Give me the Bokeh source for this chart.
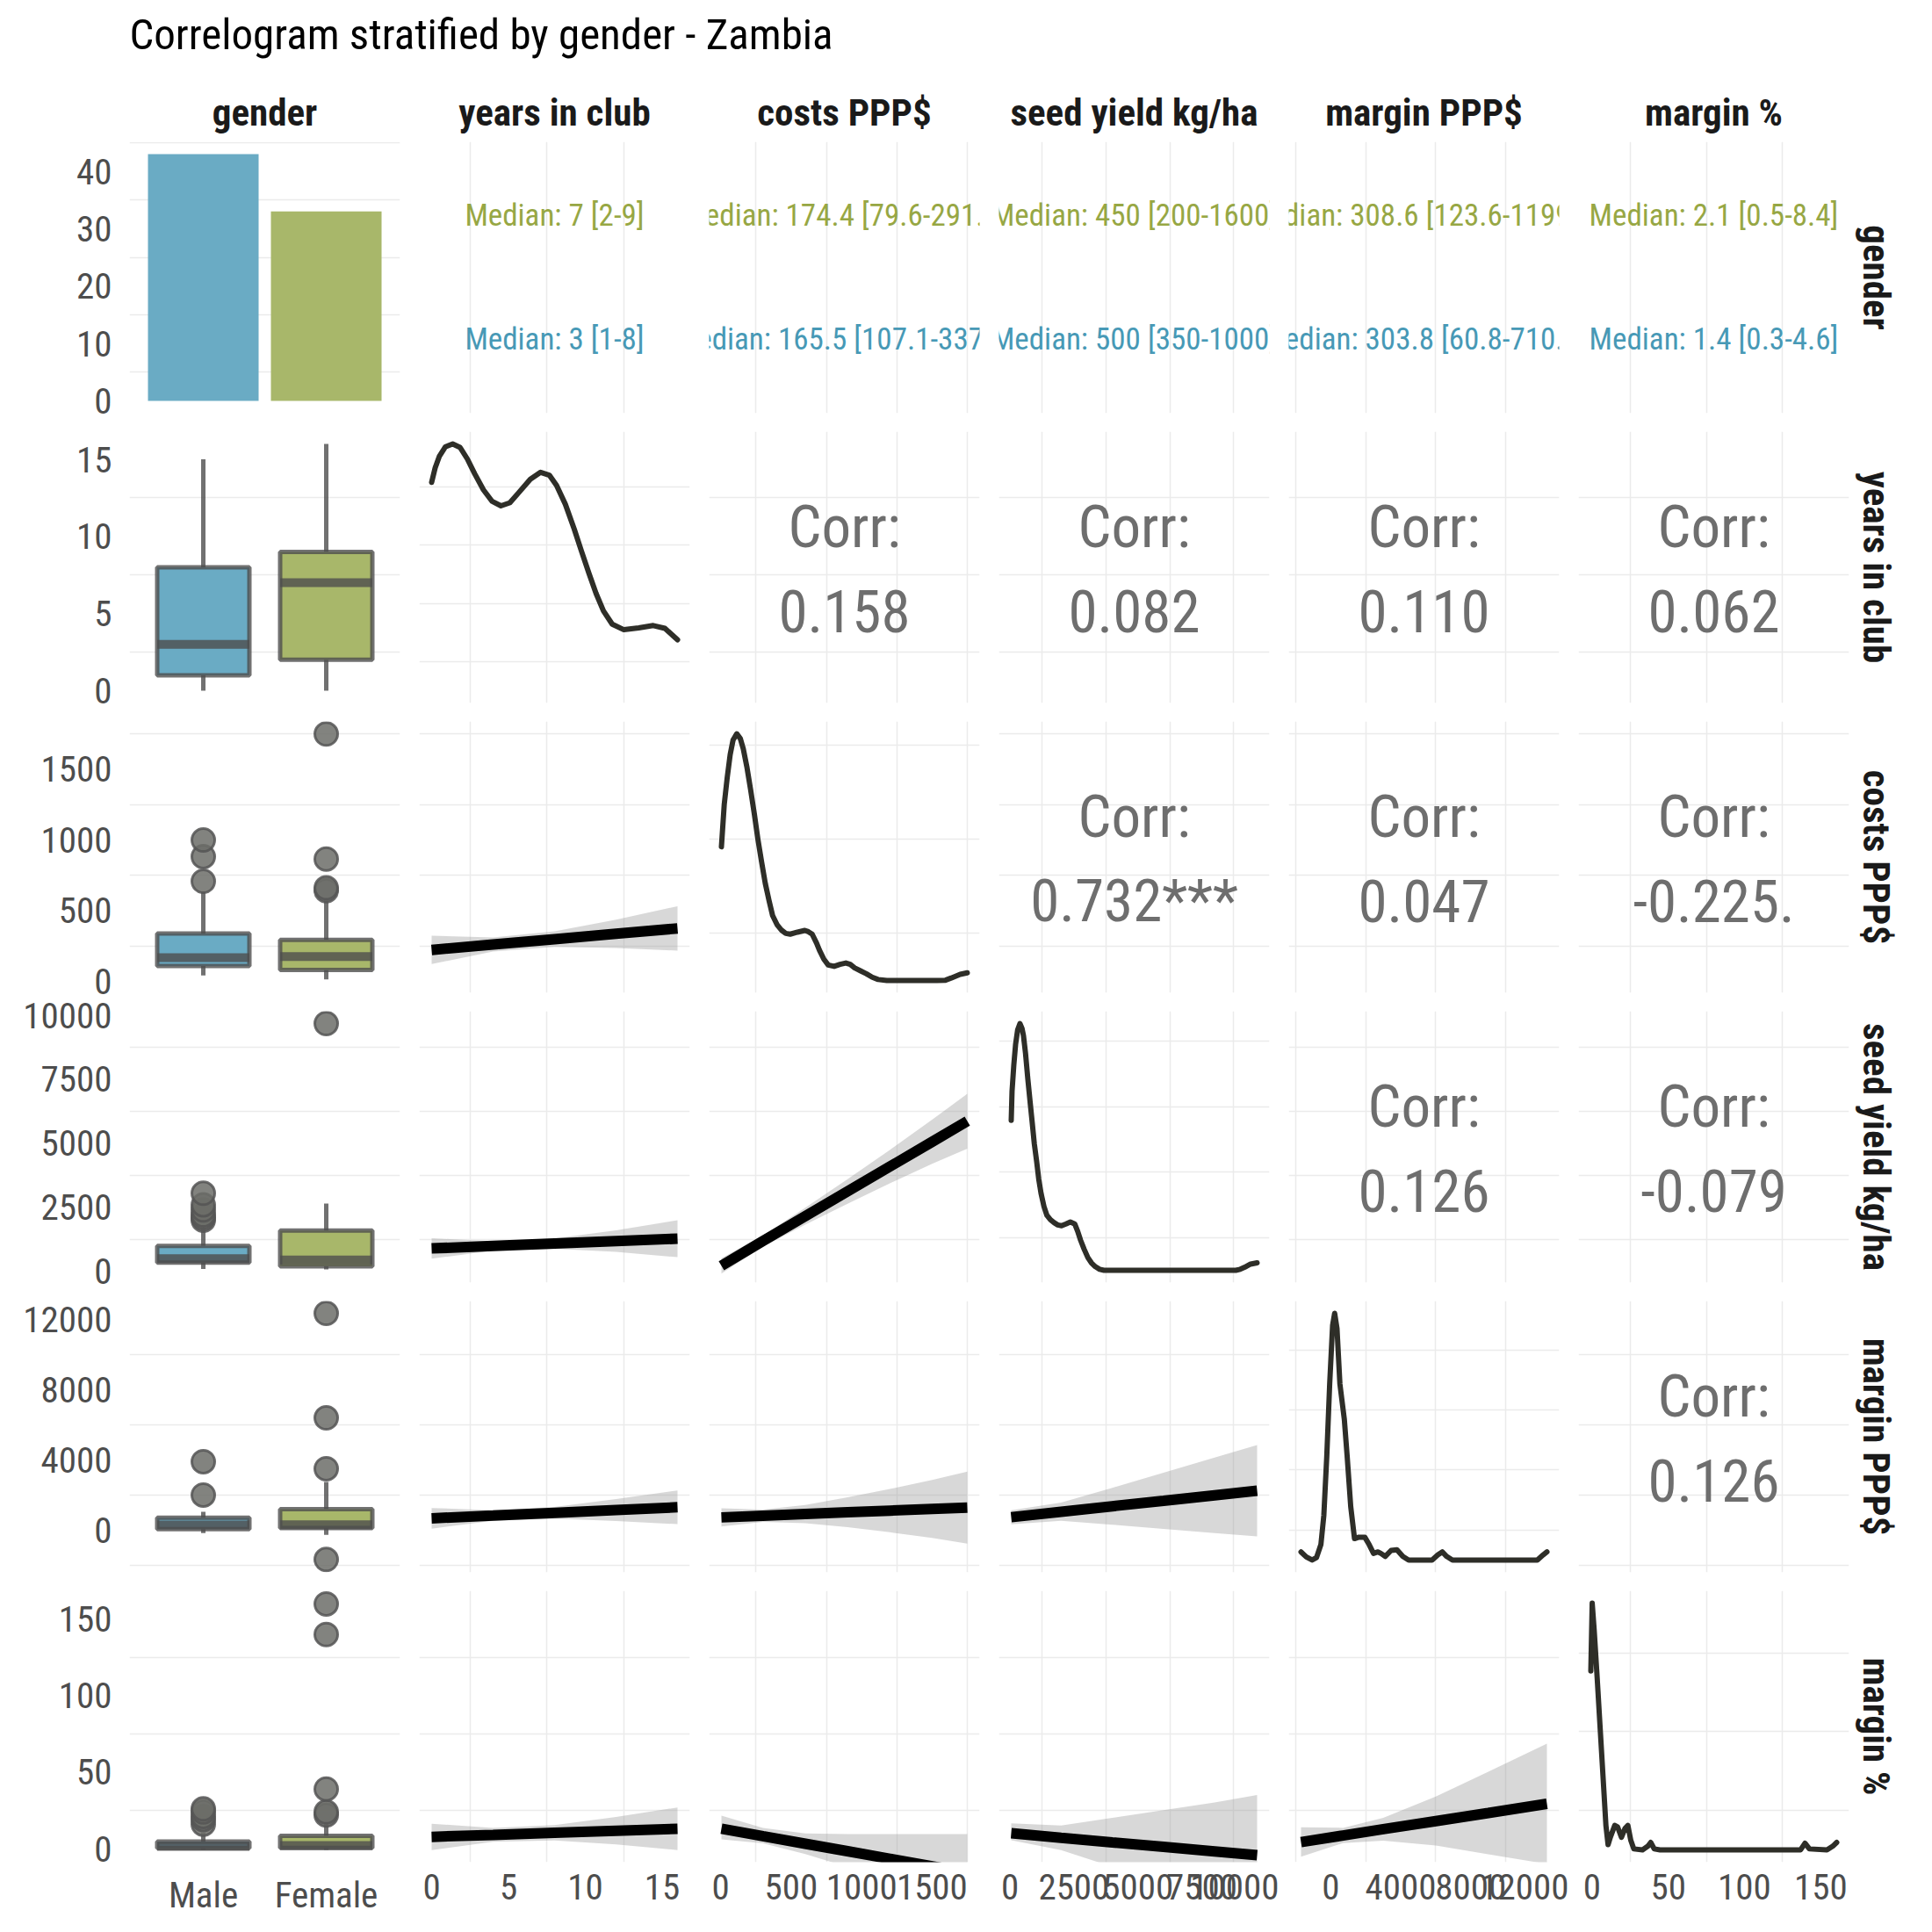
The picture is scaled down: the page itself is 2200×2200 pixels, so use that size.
from bokeh.plotting import figure
from bokeh.models import Range1d, FactorRange, FixedTicker, Title
from bokeh.layouts import column, row
from bokeh.embed import file_html
from bokeh.resources import INLINE
from bokeh.core.properties import value

# ---------------- data ----------------
TITLE = "Correlogram stratified by gender - Zambia"
VAR_LABELS = ["gender", "years in club", "costs PPP$", "seed yield kg/ha", "margin PPP$", "margin %"]
GENDERS = ["Male", "Female"]
GENDER_POS = [1, 2]
COUNTS = [43, 33]

# observed minimum / maximum of the numeric variables (years, costs, seed, margin, margin %)
NUM_MIN = [0, 5, 50, -1700, -0.8]
NUM_MAX = [16, 1750, 9660, 12350, 160.5]

MAJOR_TICKS = [[0, 5, 10, 15], [0, 500, 1000, 1500], [0, 2500, 5000, 7500, 10000],
               [0, 4000, 8000, 12000], [0, 50, 100, 150]]
MINOR_TICKS = [[2.5, 7.5, 12.5], [250, 750, 1250, 1750], [1250, 3750, 6250, 8750],
               [-2000, 2000, 6000, 10000], [25, 75, 125]]
COUNT_TICKS = [0, 10, 20, 30, 40]
COUNT_MINOR = [5, 15, 25, 35, 45]

MEDIAN_FEMALE = ["Median: 7 [2-9]", "Median: 174.4 [79.6-291.5]", "Median: 450 [200-1600]",
                 "Median: 308.6 [123.6-1199.5]", "Median: 2.1 [0.5-8.4]"]
MEDIAN_MALE = ["Median: 3 [1-8]", "Median: 165.5 [107.1-337.5]", "Median: 500 [350-1000]",
               "Median: 303.8 [60.8-710.5]", "Median: 1.4 [0.3-4.6]"]

CORR_YEARS = ["0.158", "0.082", "0.110", "0.062"]
CORR_COSTS = ["0.732***", "0.047", "-0.225."]
CORR_SEED = ["0.126", "-0.079"]
CORR_MARGIN = ["0.126"]

# boxplot statistics per variable (years, costs, seed, margin, margin %)
MALE_WHISKER_LO = [0, 40, 100, -170, -0.8]
MALE_Q1 = [1, 107.1, 350, 60.8, 0.3]
MALE_MED = [3, 165.5, 500, 303.8, 1.4]
MALE_Q3 = [8, 337.5, 1000, 710.5, 4.6]
MALE_WHISKER_HI = [15, 630, 1800, 1050, 10.5]
FEMALE_WHISKER_LO = [0, 12, 80, -270, -0.8]
FEMALE_Q1 = [2, 79.6, 200, 123.6, 0.5]
FEMALE_MED = [7, 174.4, 450, 308.6, 2.1]
FEMALE_Q3 = [9, 291.5, 1600, 1199.5, 8.4]
FEMALE_WHISKER_HI = [16, 580, 2650, 2750, 17]
MALE_OUTLIERS = [[], [706, 881, 998], [2000, 2100, 2200, 2400, 2600, 3050], [2000, 3900],
                 [16, 19, 21, 24, 26]]
FEMALE_OUTLIERS = [[], [640, 660, 864, 1748], [9660], [-1670, 3500, 6400, 12350],
                   [22, 24, 39, 140, 160]]

# kernel densities (diagonal)
DENS_YEARS_X = [0, 0.23, 0.51, 0.90, 1.37, 1.85, 2.32, 2.80, 3.37, 3.94, 4.51, 5.09, 5.66, 6.42,
                7.09, 7.66, 8.13, 8.70, 9.28, 9.75, 10.23, 10.70, 11.18, 11.75, 12.51, 13.47,
                14.42, 15.18, 16.0]
DENS_YEARS_Y = [0.0896, 0.0958, 0.1009, 0.1049, 0.1061, 0.1046, 0.0997, 0.0933, 0.0864, 0.0814,
                0.0795, 0.0808, 0.0851, 0.0909, 0.0939, 0.0927, 0.0883, 0.0802, 0.0695, 0.0600,
                0.0506, 0.0418, 0.0343, 0.0286, 0.0262, 0.0270, 0.0280, 0.0268, 0.0219]
DENS_YEARS_MINOR = [0.0125, 0.0375, 0.0625, 0.0875]

DENS_COSTS_X = [5, 25, 45.7, 67, 87.3, 114, 139.3, 160, 185.1, 212, 239.1, 264, 291.1, 316,
                343.1, 368, 399.3, 430, 461.6, 493, 544.8, 597, 621.8, 649, 680, 701, 732, 763,
                805, 846.4, 888, 919.1, 950, 991.9, 1034, 1075, 1117, 1179, 1241, 1533, 1595,
                1636, 1699, 1750]
DENS_COSTS_Y_E3 = [1.418, 1.867, 2.146, 2.394, 2.548, 2.616, 2.564, 2.457, 2.269, 2.024, 1.760,
                   1.496, 1.248, 1.031, 0.846, 0.689, 0.593, 0.535, 0.499, 0.491, 0.512, 0.530,
                   0.517, 0.491, 0.397, 0.319, 0.225, 0.164, 0.149, 0.170, 0.185, 0.170, 0.133,
                   0.102, 0.071, 0.034, 0.010, 0.0, 0.0, 0.0, 0.003, 0.026, 0.065, 0.081]
DENS_COSTS_MINOR = [0.5, 1.5, 2.5]

DENS_SEED_X = [50, 82, 151, 220, 300, 392, 472, 529, 609, 701, 792, 873, 952, 1044, 1124, 1216,
               1330, 1445, 1582, 1731, 1868, 2017, 2189, 2360, 2532, 2647, 2761, 2898, 3047,
               3184, 3334, 3505, 3677, 8829, 9000, 9172, 9401, 9660]
DENS_SEED_Y_E4 = [2.289, 2.733, 3.135, 3.447, 3.669, 3.767, 3.691, 3.582, 3.312, 2.913, 2.556,
                  2.244, 1.932, 1.661, 1.395, 1.173, 0.974, 0.838, 0.771, 0.725, 0.692, 0.680,
                  0.707, 0.737, 0.707, 0.594, 0.459, 0.323, 0.192, 0.113, 0.056, 0.015, 0.0,
                  0.0, 0.015, 0.045, 0.094, 0.113]
DENS_SEED_MINOR = [0.5, 1.5, 2.5, 3.5]

DENS_MARGIN_X = [-1700, -1400, -1066, -815, -564, -397, -230, -63, 104, 221, 355, 522, 772, 939,
                 1140, 1357, 1608, 1942, 2192, 2443, 2694, 2861, 3111, 3446, 3780, 4114, 4449,
                 5785, 6119, 6370, 6620, 6955, 11800, 12135, 12350]
DENS_MARGIN_Y_E4 = [0.135, 0.053, 0.0, 0.041, 0.258, 0.742, 1.717, 2.930, 3.905, 4.106, 3.856,
                    2.930, 2.348, 1.717, 0.889, 0.357, 0.381, 0.381, 0.258, 0.111, 0.135, 0.111,
                    0.061, 0.160, 0.172, 0.061, 0.0, 0.0, 0.086, 0.135, 0.061, 0.0, 0.0, 0.086,
                    0.135]
DENS_MARGIN_MINOR = [0.5, 1.5, 2.5, 3.5]

DENS_MPCT_X = [-0.8, 0.1, 1.4, 3.4, 5.3, 7.2, 9.1, 10.5, 12.0, 14.9, 16.8, 19.3, 21.6, 23.5, 25.4,
               27.4, 33.1, 36.6, 38.5, 40.8, 44.6, 136.8, 139.7, 142.6, 154.1, 157.9, 160.5]
DENS_MPCT_Y = [0.1136, 0.1566, 0.1395, 0.1086, 0.0775, 0.0466, 0.0155, 0.0033, 0.0080, 0.0155,
               0.0145, 0.0080, 0.0136, 0.0155, 0.0061, 0.0006, 0.0, 0.0023, 0.0047, 0.0006, 0.0,
               0.0, 0.0042, 0.0006, 0.0, 0.0023, 0.0047]
DENS_MPCT_MINOR = [0.025, 0.075, 0.125]

# linear fits with confidence bands (lower triangle)
FIT_YEARS_X = [0, 4, 8, 12, 16]
FIT_COSTS_YEARS = [221, 259, 297, 335, 373]
FIT_COSTS_YEARS_LO = [121, 209, 242, 235, 216]
FIT_COSTS_YEARS_HI = [321, 309, 352, 435, 530]
FIT_SEED_YEARS = [900, 995, 1090, 1185, 1280]
FIT_SEED_YEARS_LO = [500, 815, 890, 765, 560]
FIT_SEED_YEARS_HI = [1300, 1175, 1290, 1605, 2000]
FIT_MARGIN_YEARS = [677, 834, 992, 1149, 1306]
FIT_MARGIN_YEARS_LO = [87, 534, 662, 529, 346]
FIT_MARGIN_YEARS_HI = [1267, 1134, 1322, 1769, 2266]
FIT_MPCT_YEARS = [7.7, 9.0, 10.35, 11.7, 13.0]
FIT_MPCT_YEARS_LO = [-0.9, 4.5, 5.35, 2.7, -0.9]
FIT_MPCT_YEARS_HI = [16.3, 13.5, 15.35, 20.7, 26.9]

FIT_COSTS_X = [5, 300, 600, 900, 1200, 1500, 1750]
FIT_SEED_COSTS = [223, 1189, 2155, 3121, 4087, 5053, 5858]
FIT_SEED_COSTS_LO = [-77, 969, 1825, 2641, 3437, 4193, 4788]
FIT_SEED_COSTS_HI = [523, 1409, 2485, 3601, 4737, 5913, 6928]
FIT_MARGIN_COSTS = [730, 826, 922, 1018, 1114, 1210, 1290]
FIT_MARGIN_COSTS_LO = [210, 476, 402, 168, -116, -440, -760]
FIT_MARGIN_COSTS_HI = [1250, 1176, 1442, 1868, 2344, 2860, 3340]
FIT_MPCT_COSTS = [13, 8.1, 3.2, -1.7, -6.6, -11.5, -15.6]
FIT_MPCT_COSTS_LO = [6, 3.5, -3.5, -12, -21, -30, -38]
FIT_MPCT_COSTS_HI = [21.5, 13.5, 10, 9.5, 9.5, 9.5, 9.5]

FIT_SEED_X = [50, 2000, 4000, 6000, 8000, 9660]
FIT_MARGIN_SEED = [742, 1053, 1365, 1676, 1988, 2246]
FIT_MARGIN_SEED_LO = [342, 533, 315, 76, -162, -354]
FIT_MARGIN_SEED_HI = [1142, 1573, 2415, 3276, 4138, 4846]
FIT_MPCT_SEED = [10.1, 7.1, 4.1, 1.2, -1.8, -4.3]
FIT_MPCT_SEED_LO = [5.5, -0.9, -11.9, -22.8, -33.8, -43.7]
FIT_MPCT_SEED_HI = [16.5, 15.1, 20.1, 25.2, 30.2, 35.1]

FIT_MARGIN_X = [-1700, 700, 3000, 6000, 9000, 12350]
FIT_MPCT_MARGIN = [4.3, 8.6, 12.7, 18.0, 23.3, 29.3]
FIT_MPCT_MARGIN_LO = [-5.3, 3.6, 5.2, 2.0, -3.7, -10.0]
FIT_MPCT_MARGIN_HI = [13.9, 13.6, 20.2, 34.0, 50.3, 68.6]

# ---------------- style ----------------
FONT = "'Roboto Condensed', 'Liberation Sans Narrow', Roboto"
TICK_SIZE = "41px"
STRIP_SIZE = "43px"
GRID = "#ebebeb"
MALE_FILL = "#6aabc4"
FEMALE_FILL = "#a8b76a"
MALE_TEXT = "#4799b6"
FEMALE_TEXT = "#97a744"
BOX_LINE = "#4d4d4d"
CORR_COLOR = "#6e6e6e"
FW, FH = 308, 309

# assemble lookups from the named arrays
DENSITIES = {
    1: (DENS_YEARS_X, DENS_YEARS_Y, DENS_YEARS_MINOR),
    2: (DENS_COSTS_X, DENS_COSTS_Y_E3, DENS_COSTS_MINOR),
    3: (DENS_SEED_X, DENS_SEED_Y_E4, DENS_SEED_MINOR),
    4: (DENS_MARGIN_X, DENS_MARGIN_Y_E4, DENS_MARGIN_MINOR),
    5: (DENS_MPCT_X, DENS_MPCT_Y, DENS_MPCT_MINOR),
}
FITS = {
    (2, 1): (FIT_YEARS_X, FIT_COSTS_YEARS, FIT_COSTS_YEARS_LO, FIT_COSTS_YEARS_HI),
    (3, 1): (FIT_YEARS_X, FIT_SEED_YEARS, FIT_SEED_YEARS_LO, FIT_SEED_YEARS_HI),
    (4, 1): (FIT_YEARS_X, FIT_MARGIN_YEARS, FIT_MARGIN_YEARS_LO, FIT_MARGIN_YEARS_HI),
    (5, 1): (FIT_YEARS_X, FIT_MPCT_YEARS, FIT_MPCT_YEARS_LO, FIT_MPCT_YEARS_HI),
    (3, 2): (FIT_COSTS_X, FIT_SEED_COSTS, FIT_SEED_COSTS_LO, FIT_SEED_COSTS_HI),
    (4, 2): (FIT_COSTS_X, FIT_MARGIN_COSTS, FIT_MARGIN_COSTS_LO, FIT_MARGIN_COSTS_HI),
    (5, 2): (FIT_COSTS_X, FIT_MPCT_COSTS, FIT_MPCT_COSTS_LO, FIT_MPCT_COSTS_HI),
    (4, 3): (FIT_SEED_X, FIT_MARGIN_SEED, FIT_MARGIN_SEED_LO, FIT_MARGIN_SEED_HI),
    (5, 3): (FIT_SEED_X, FIT_MPCT_SEED, FIT_MPCT_SEED_LO, FIT_MPCT_SEED_HI),
    (5, 4): (FIT_MARGIN_X, FIT_MPCT_MARGIN, FIT_MPCT_MARGIN_LO, FIT_MPCT_MARGIN_HI),
}
CORRS = {1: CORR_YEARS, 2: CORR_COSTS, 3: CORR_SEED, 4: CORR_MARGIN}


def num_bounds(i):
    lo, hi = NUM_MIN[i], NUM_MAX[i]
    pad = 0.05 * (hi - lo)
    return lo - pad, hi + pad


def new_fig(r, c, xr, yr):
    p = figure(frame_width=FW, frame_height=FH, x_range=xr, y_range=yr,
               min_border_left=147 if c == 0 else 11,
               min_border_right=95 if c == 5 else 11,
               min_border_top=91 if r == 0 else 10,
               min_border_bottom=80 if r == 5 else 11,
               toolbar_location=None, output_backend="svg",
               outline_line_color=None, background_fill_color="white",
               border_fill_color="white")
    for ax in list(p.xaxis) + list(p.yaxis):
        ax.axis_line_color = None
        ax.major_tick_line_color = None
        ax.minor_tick_line_color = None
        ax.major_tick_out = 0
        ax.major_tick_in = 0
        ax.minor_tick_out = 0
        ax.minor_tick_in = 0
        ax.major_label_text_font = FONT
        ax.major_label_text_font_size = TICK_SIZE
        ax.major_label_text_color = "#4d4d4d"
    p.xaxis.major_label_standoff = 13
    p.yaxis.major_label_standoff = 20
    p.xaxis.visible = (r == 5)
    p.yaxis.visible = (c == 0)
    for g in list(p.xgrid) + list(p.ygrid):
        g.grid_line_color = None
        g.minor_grid_line_color = None
    if r == 0:
        p.title.text = VAR_LABELS[c]
        p.title.align = "center"
        p.title.text_font = FONT
        p.title.text_font_size = STRIP_SIZE
        p.title.text_font_style = "bold"
        p.title.text_color = "#1a1a1a"
        p.title.standoff = 17
    if c == 5:
        p.add_layout(Title(text=VAR_LABELS[r], align="center", text_font=FONT,
                           text_font_size=STRIP_SIZE, text_font_style="bold",
                           text_color="#1a1a1a", standoff=13), "right")
    return p


def set_x(p, major, minor, overrides=None):
    p.xaxis.ticker = FixedTicker(ticks=major, minor_ticks=minor)
    if overrides:
        p.xaxis.major_label_overrides = overrides
    if minor:
        p.xgrid.minor_grid_line_color = GRID
        p.xgrid.minor_grid_line_width = 1.5


def set_y(p, major, minor):
    p.yaxis.ticker = FixedTicker(ticks=major, minor_ticks=minor)
    if minor:
        p.ygrid.minor_grid_line_color = GRID
        p.ygrid.minor_grid_line_width = 1.5


figs = [[None] * 6 for _ in range(6)]
gender_overrides = {GENDER_POS[k]: GENDERS[k] for k in range(2)}

for r in range(6):
    for c in range(6):
        if c == 0:
            xr = Range1d(0.4, 2.6)
        else:
            xr = Range1d(*num_bounds(c - 1))
        if r == 0 and c == 0:
            yr = Range1d(-0.05 * max(COUNTS), 1.05 * max(COUNTS))
        elif r == 0:
            yr = FactorRange(factors=GENDERS, range_padding=0.1, range_padding_units="absolute")
        elif r == c:
            dens = DENSITIES[r][1]
            yr = Range1d(-0.05 * max(dens), 1.05 * max(dens))
        else:
            yr = Range1d(*num_bounds(r - 1))
        p = new_fig(r, c, xr, yr)

        if c == 0:
            set_x(p, GENDER_POS, [], gender_overrides)
        else:
            set_x(p, MAJOR_TICKS[c - 1], MINOR_TICKS[c - 1])
        if r == 0 and c == 0:
            set_y(p, COUNT_TICKS, COUNT_MINOR)
        elif r == 0:
            pass
        elif r == c:
            set_y(p, [], DENSITIES[r][2])
        else:
            set_y(p, MAJOR_TICKS[r - 1], MINOR_TICKS[r - 1])

        xmid = 0.5 * (xr.start + xr.end)

        if r == 0 and c == 0:
            p.vbar(x=GENDER_POS, top=COUNTS, width=0.9, bottom=0,
                   fill_color=[MALE_FILL, FEMALE_FILL], line_color=None)
        elif r == 0:
            p.text(x=[xmid, xmid], y=["Female", "Male"],
                   text=[MEDIAN_FEMALE[c - 1], MEDIAN_MALE[c - 1]],
                   text_color=[FEMALE_TEXT, MALE_TEXT], text_align="center",
                   text_baseline="middle", text_font=value(FONT), text_font_size="35px")
        elif c == 0:
            i = r - 1
            stats = [
                (GENDER_POS[0], MALE_WHISKER_LO[i], MALE_Q1[i], MALE_MED[i], MALE_Q3[i],
                 MALE_WHISKER_HI[i], MALE_OUTLIERS[i], MALE_FILL),
                (GENDER_POS[1], FEMALE_WHISKER_LO[i], FEMALE_Q1[i], FEMALE_MED[i], FEMALE_Q3[i],
                 FEMALE_WHISKER_HI[i], FEMALE_OUTLIERS[i], FEMALE_FILL),
            ]
            for pos, wlo, q1, med, q3, whi, outs, fill in stats:
                p.segment(x0=[pos, pos], x1=[pos, pos], y0=[q3, wlo], y1=[whi, q1],
                          line_color=BOX_LINE, line_alpha=0.8, line_width=5)
                p.quad(left=[pos - 0.375], right=[pos + 0.375], bottom=[q1], top=[q3],
                       fill_color=fill, line_color=BOX_LINE, line_alpha=0.8, line_width=5)
                p.segment(x0=[pos - 0.375], x1=[pos + 0.375], y0=[med], y1=[med],
                          line_color=BOX_LINE, line_alpha=0.8, line_width=10)
                if outs:
                    p.scatter(x=[pos] * len(outs), y=outs, size=26, marker="circle",
                              fill_color="#6c6d68", fill_alpha=0.85,
                              line_color="#555555", line_alpha=0.85, line_width=3)
        elif r == c:
            dx, dy, _ = DENSITIES[r]
            p.line(x=dx, y=dy, line_color="#2e2e28", line_width=6, line_join="round",
                   line_cap="round")
        elif r > c:
            fx, fy, flo, fhi = FITS[(r, c)]
            p.varea(x=fx, y1=flo, y2=fhi, fill_color="#999999", fill_alpha=0.38)
            p.line(x=fx, y=fy, line_color="black", line_width=12)
        else:
            ymid = 0.5 * (yr.start + yr.end)
            p.text(x=[xmid], y=[ymid], text=["Corr:"], y_offset=-46,
                   text_color=CORR_COLOR, text_align="center", text_baseline="middle",
                   text_font=value(FONT), text_font_size="67px")
            p.text(x=[xmid], y=[ymid], text=[CORRS[r][c - r - 1]], y_offset=50,
                   text_color=CORR_COLOR, text_align="center", text_baseline="middle",
                   text_font=value(FONT), text_font_size="67px")
        figs[r][c] = p

header = figure(width=2200, height=70, x_range=Range1d(0, 2200), y_range=Range1d(0, 70),
                min_border=0, toolbar_location=None, output_backend="svg",
                outline_line_color=None, x_axis_location=None, y_axis_location=None,
                background_fill_color="white", border_fill_color="white")
header.grid.visible = False
header.text(x=[147], y=[31], text=[TITLE], text_baseline="middle", text_align="left",
            text_font=value(FONT), text_font_size="49px", text_color="#000000")

layout = column(header, *[row(*figs[r]) for r in range(6)])
open("out.html", "w").write(file_html(layout, INLINE, title="Correlogram"))
